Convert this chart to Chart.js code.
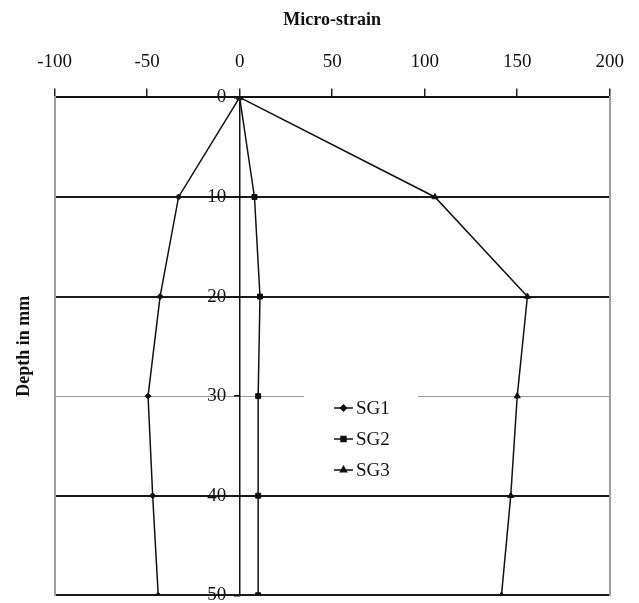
<!DOCTYPE html>
<html>
<head>
<meta charset="utf-8">
<script src="https://cdn.jsdelivr.net/npm/chart.js@4/dist/chart.umd.min.js"></script>
<style>
  body { margin: 0; background: #fff; }
  canvas { display: block; }
</style>
</head>
<body>
<canvas id="c" width="639" height="603"></canvas>
<script>
const depths = [0, 10, 20, 30, 40, 50];
const sg1 = [0, -33, -43, -49.5, -47, -44];
const sg2 = [0, 8, 11, 10, 10, 10];
const sg3 = [0, 105.5, 155.5, 150, 146.5, 141.5];
const seriesLabels = ['SG1', 'SG2', 'SG3'];
const markers = ['rectRot', 'rect', 'triangle'];

const serif = "'Liberation Serif', 'Times New Roman', serif";

function toPoints(xs) {
  return xs.map((v, i) => ({ x: v, y: depths[i] }));
}

function makeSet(label, xs, style, r) {
  return {
    label: label,
    data: toPoints(xs),
    showLine: true,
    borderColor: '#111',
    backgroundColor: '#111',
    borderWidth: 1.5,
    pointStyle: style,
    pointRadius: r,
    pointBorderWidth: 1,
    yAxisID: 'y'
  };
}

// legend drawn inside the plot, with a white box over the grid
const boxLegend = {
  id: 'boxLegend',
  afterDatasetsDraw(chart) {
    const ctx = chart.ctx;
    const x0 = 304, y0 = 392;
    ctx.save();
    ctx.fillStyle = '#fff';
    ctx.fillRect(x0, y0, 114, 94);
    ctx.font = '19px ' + serif;
    ctx.textBaseline = 'middle';
    ctx.textAlign = 'left';
    chart.data.datasets.forEach((ds, i) => {
      const y = 408 + i * 31;
      ctx.strokeStyle = '#111';
      ctx.lineWidth = 1.5;
      ctx.beginPath();
      ctx.moveTo(334, y);
      ctx.lineTo(353, y);
      ctx.stroke();
      ctx.fillStyle = '#111';
      Chart.helpers.drawPoint(ctx, { pointStyle: ds.pointStyle, radius: ds.pointRadius, borderWidth: 1 }, 343.5, y);
      ctx.fillStyle = '#111';
      ctx.fillText(ds.label, 356, y + 1);
    });
    ctx.restore();
  }
};

new Chart(document.getElementById('c').getContext('2d'), {
  type: 'scatter',
  data: {
    datasets: [
      makeSet(seriesLabels[0], sg1, markers[0], 3),
      makeSet(seriesLabels[1], sg2, markers[1], 3.5),
      makeSet(seriesLabels[2], sg3, markers[2], 3.5)
    ]
  },
  options: {
    responsive: false,
    animation: false,
    layout: { padding: { left: 14, right: 10, top: 10, bottom: 0 } },
    plugins: {
      legend: { display: false },
      tooltip: { enabled: false }
    },
    scales: {
      x: {
        type: 'linear',
        position: 'top',
        min: -100,
        max: 200,
        ticks: { stepSize: 50, maxRotation: 0, color: '#111', font: { family: serif, size: 19 }, padding: 15 },
        grid: { drawOnChartArea: false, drawTicks: true, tickLength: 9, color: '#222', lineWidth: 1.5 },
        border: { color: '#111', width: 2 },
        title: { display: true, text: 'Micro-strain', color: '#111', font: { family: serif, size: 18, weight: 'bold' }, padding: { top: 0, bottom: 4 } }
      },
      y: {
        type: 'linear',
        position: 'left',
        reverse: true,
        min: 0,
        max: 50,
        ticks: { display: false, stepSize: 10 },
        grid: {
          drawTicks: false,
          color: c => (c.tick && c.tick.value === 30 ? '#9a9a9a' : '#1a1a1a'),
          lineWidth: c => (c.tick && c.tick.value === 30 ? 1 : 2)
        },
        border: { color: '#a0a0a0', width: 2 },
        title: { display: true, text: 'Depth in mm', color: '#111', font: { family: serif, size: 18, weight: 'bold' }, padding: { top: 0, bottom: 19 } }
      },
      yc: {
        type: 'linear',
        position: { x: 0 },
        reverse: true,
        min: 0,
        max: 50,
        ticks: {
          stepSize: 10,
          color: '#111',
          font: { family: serif, size: 19, lineHeight: 0.5 },
          callback: v => v + '\u2002\u2009'
        },
        grid: { drawOnChartArea: false, drawTicks: true, tickLength: 5, color: '#111', lineWidth: 1.5 },
        border: { color: '#111', width: 1.5 }
      },
      yr: {
        type: 'linear',
        position: 'right',
        min: 0,
        max: 50,
        ticks: { display: false },
        grid: { drawOnChartArea: false, drawTicks: false },
        border: { color: '#a0a0a0', width: 2 }
      }
    }
  },
  plugins: [boxLegend]
});
</script>
</body>
</html>
